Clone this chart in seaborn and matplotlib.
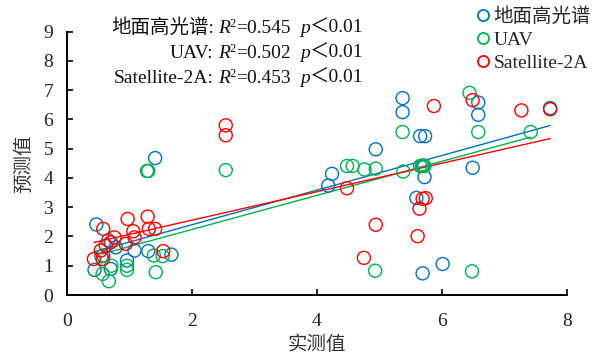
import numpy as np
import pandas as pd
import matplotlib
matplotlib.use("Agg")
import matplotlib.pyplot as plt
import seaborn as sns
from matplotlib.lines import Line2D
from matplotlib.transforms import IdentityTransform

# Measured (实测值) vs predicted (预测值) values for each data source
ground_x = [0.47, 0.66, 0.78, 1.08, 1.30, 1.67, 0.96, 0.44, 0.70, 0.58, 1.41,
            4.18, 4.24, 4.94, 5.37, 5.37, 5.59, 5.65, 5.69, 5.70, 5.72, 5.73,
            6.01, 6.49, 6.58, 6.58, 7.73]
ground_y = [2.41, 1.87, 1.63, 1.52, 1.50, 1.38, 1.18, 0.86, 0.89, 1.35, 4.68,
            3.74, 4.14, 4.98, 6.73, 6.25, 3.32, 5.43, 0.74, 4.43, 4.03, 5.43,
            1.06, 4.35, 6.58, 6.16, 6.39]

uav_x = [0.57, 0.67, 0.71, 0.96, 0.96, 1.42, 1.39, 1.53, 0.55, 1.28, 1.30, 2.54,
         4.48, 4.57, 4.76, 4.93, 4.94, 5.37, 5.38, 5.65, 5.68, 5.72, 6.44, 6.48,
         6.58, 7.42]
uav_y = [0.72, 0.47, 1.00, 1.00, 0.86, 0.78, 1.35, 1.33, 1.32, 4.24, 4.24, 4.27,
         4.41, 4.41, 4.29, 0.83, 4.32, 5.57, 4.22, 4.41, 4.41, 4.41, 6.91, 0.81,
         5.57, 5.57]

sat_x = [0.43, 0.54, 0.57, 0.58, 0.62, 0.70, 0.76, 0.94, 0.97, 1.06, 1.08, 1.29,
         1.31, 1.41, 1.54, 2.54, 2.54, 4.48, 4.75, 4.94, 5.61, 5.64, 5.69, 5.74,
         5.87, 6.49, 7.27, 7.73]
sat_y = [1.23, 1.52, 1.23, 2.26, 1.69, 1.80, 1.97, 1.75, 2.60, 2.18, 1.97, 2.68,
         2.26, 2.26, 1.50, 5.80, 5.46, 3.65, 1.27, 2.40, 2.01, 2.95, 3.29, 3.31,
         6.46, 6.66, 6.31, 6.35]

series_names = ["地面高光谱", "UAV", "Satellite-2A"]
series_colors = ["#0070C0", "#00B050", "#FF0000"]
r2_values = [0.545, 0.502, 0.453]
p_limit = "0.01"

x_ticks = [0, 2, 4, 6, 8]
y_ticks = list(range(0, 10))

sns.set_theme(style="white")
plt.rcParams["font.family"] = ["Liberation Serif", "Noto Sans CJK SC"]
plt.rcParams["font.size"] = 14

W, H = 595, 355
fig = plt.figure(figsize=(W / 100, H / 100), dpi=100)
ax = fig.add_axes([67 / W, 1 - 295 / H, 500 / W, (295 - 31.7) / H])

data = [(ground_x, ground_y), (uav_x, uav_y), (sat_x, sat_y)]
for (xs, ys), name, color in zip(data, series_names, series_colors):
    df = pd.DataFrame({"实测值": xs, "预测值": ys})
    sns.regplot(data=df, x="实测值", y="预测值", ax=ax, ci=None, color=color,
                truncate=True,
                scatter_kws=dict(s=88, facecolors="none", edgecolors=color,
                                 linewidths=1.0, alpha=1, zorder=3),
                line_kws=dict(lw=1.0, zorder=2))

ax.set_xlim(0, 8)
ax.set_ylim(0, 9)
ax.set_xticks(x_ticks)
ax.set_yticks(y_ticks)
ax.set_xlabel("实测值", fontsize=14, labelpad=4, color="#333333")
ax.set_ylabel("预测值", fontsize=14, labelpad=7, color="#333333")
sns.despine(ax=ax)
for side in ("left", "bottom"):
    ax.spines[side].set_color("black")
    ax.spines[side].set_linewidth(1.4)
ax.tick_params(axis="both", direction="in", length=4, width=1.2, colors="black",
               labelcolor="#222222", labelsize=14, bottom=True, left=True)
ax.tick_params(axis="x", pad=13)
ax.tick_params(axis="y", pad=10)

# Legend with hollow circle markers
handles = [Line2D([], [], ls="none", marker="o", mfc="none", mec=c, mew=1.3, ms=8)
           for c in series_colors]
fig.legend(handles, series_names, loc="upper left",
           bbox_to_anchor=(475 / W, 1 - 7 / H), frameon=False,
           handlelength=0.8, handletextpad=0.15, borderpad=0, borderaxespad=0,
           labelspacing=0.28, fontsize=14)

# Fit statistics, drawn as right-aligned rich text lines
fig.canvas.draw()
renderer = fig.canvas.get_renderer()


def rich_line(x_right, y_base, segments):
    """Draw segments right to left; each segment carries the gap before it."""
    x = x_right
    for text, kw, dy, gap_before in reversed(segments):
        t = fig.text(x, H - y_base + dy, text, transform=IdentityTransform(),
                     ha="right", va="baseline", color="#111111", **kw)
        bb = t.get_window_extent(renderer)
        x = bb.x0 - gap_before


normal = dict(fontsize=14)
italic = dict(fontsize=14, style="italic")
small = dict(fontsize=9)
for i, (name, r2) in enumerate(zip(series_names, r2_values)):
    segs = [
        (name + ":", normal, 0, 0),
        ("R", italic, 0, 4),
        ("2", small, 6, 0),
        (f"={r2:.3f}", normal, 0, 0),
        ("p", italic, 0, 10),
        ("＜" + p_limit, normal, 0, 0),
    ]
    rich_line(364, 33 + 25 * i, segs)

fig.savefig("out.png", dpi=100)
